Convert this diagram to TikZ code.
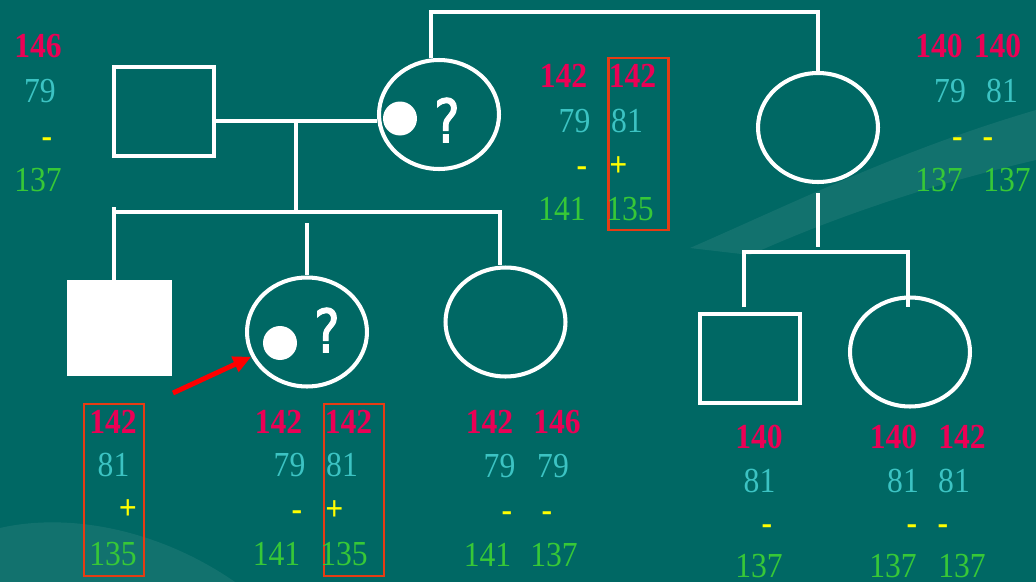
\documentclass[tikz,border=0pt]{standalone}
\usepackage{xcolor}
\usepackage{fontspec}
\newfontfamily\numfont{Liberation Serif}[FakeStretch=0.9]
\newfontfamily\qmfont{DejaVu Sans}[FakeStretch=0.8, FakeBold=2]
\usetikzlibrary{arrows.meta, calc, shapes.geometric}

\definecolor{bgteal}{RGB}{0,104,100}
\definecolor{mkred}{RGB}{235,0,85}
\definecolor{mkcyan}{RGB}{60,195,195}
\definecolor{mkyel}{RGB}{255,255,0}
\definecolor{mkgrn}{RGB}{55,200,55}
\definecolor{boxred}{RGB}{230,60,20}
\definecolor{arrred}{RGB}{255,0,0}

\tikzset{
  pline/.style={white, line width=2.3pt},
  male/.style={draw=white, line width=2.3pt, minimum width=2cm, minimum height=1.78cm, inner sep=0pt},
  affmale/.style={fill=white, minimum width=2.1cm, minimum height=1.92cm, inner sep=0pt},
  female/.style={ellipse, draw=white, line width=2.3pt, minimum width=2.4cm, minimum height=2.18cm, inner sep=0pt},
  carrier/.style={circle, fill=white, minimum size=0.68cm, inner sep=0pt},
  qmark/.style={white, inner sep=0pt, font=\qmfont\fontsize{34}{38}\selectfont},
  allele/.style={anchor=base, inner sep=0pt, font=\numfont\fontsize{20}{24}\selectfont},
  mkA/.style={allele, mkred, font=\numfont\bfseries\fontsize{20}{24}\selectfont},
  mkB/.style={allele, mkcyan},
  mut/.style={allele, mkyel, font=\numfont\bfseries\fontsize{20}{24}\selectfont},
  mkC/.style={allele, mkgrn},
  hapbox/.style={draw=boxred, line width=1.2pt, minimum width=1.2cm, minimum height=3.44cm, inner sep=0pt},
  swoosh/.style={fill=white, opacity=0.07}
}

\begin{document}
\begin{tikzpicture}[x=0.02cm, y=-0.02cm, >={Triangle[length=3.6mm, width=3.2mm]}]
  \fill[bgteal] (0,0) rectangle (1036,582);
  \useasboundingbox (0,0) rectangle (1036,582);
  % background swooshes
  \fill[swoosh] (690,248) .. controls (800,200) and (900,150) .. (1036,110) -- (1036,160) .. controls (950,180) and (850,210) .. (750,255) -- cycle;
  \fill[swoosh] (0,528) .. controls (70,512) and (160,530) .. (235,582) -- (0,582) -- cycle;

  % generation I
  \node[male] (gpa) at (164,111.5) {};
  \node[female] (gmaL) at (439,114.5) {};
  \node[female] (gmaR) at (818,127.5) {};
  \node[carrier] (dotL) at (400,118.5) {};
  \node[qmark] (qL) at (447,120) {?};

  % generation II
  \node[affmale] (sonA) at (119.5,328) {};
  \node[female] (prob) at (307,332) {};
  \node[female] (sis) at (505.5,322) {};
  \node[male] (sonB) at (750,358.5) {};
  \node[female] (dau) at (910,352) {};
  \node[carrier] (dotP) at (280,343) {};
  \node[qmark] (qP) at (327,330) {?};

  % pedigree lines
  \coordinate (topL) at (431,12);
  \coordinate (topR) at (818,12);
  \coordinate (mar) at (296,121);
  \coordinate (sibM) at (296,212);
  \coordinate (sibL) at (114,212);
  \coordinate (sibR) at (500,212);
  \coordinate (dropR) at (818,193);
  \coordinate (sbL) at (744,252);
  \coordinate (sbR) at (908,252);
  \draw[pline] (topL |- gmaL.north) -- (topL) -- (topR) -- (gmaR.north);
  \draw[pline] (gpa.east |- mar) -- (gmaL.west |- mar);
  \draw[pline] (mar) -- (sibM);
  \draw[pline] (sibL |- sonA.north) -- (114,207);
  \draw[pline] (sibL) -- (sibR) -- (sibR |- sis.north);
  \draw[pline] (307,223) -- (prob.north);
  \draw[pline] (dropR) -- (818,247);
  \draw[pline] (sbL |- 0,307) -- (sbL) -- (sbR) -- (sbR |- 0,307);

  \coordinate (arrtail) at (173,393);
  \draw[->, arrred, line width=2.8pt] (arrtail) -- (prob.204);

  % haplotype boxes
  \node[hapbox] (boxL) at (638.5,144) {};
  \node[hapbox] (boxA) at (113.8,490) {};
  \node[hapbox] (boxP) at (354,490) {};

  % alleles
  \foreach \n/\x/\y/\t in {gpa1/38/57/146, gl1/563.5/87/142, gl2/632.5/87/142, gr1/939/57/140, gr2/997.5/57/140,
      sa1/113/433/142, pb1/278.5/433/142, pb2/348.5/433/142, ss1/489.5/433/142, ss2/557/433/146,
      sb1/759/448/140, dd1/893.5/448/140, dd2/962/448/142}
    \node[mkA] (\n) at (\x,\y) {\t};
  \foreach \n/\x/\y/\t in {gpa2/40/102/79, gl3/574.5/132/79, gl4/627/132/81, gr3/950/102/79, gr4/1002/102/81,
      sa2/113.5/476/81, pb3/289.5/476/79, pb4/342/476/81, ss3/499.5/477/79, ss4/553/477/79,
      sb2/759.5/492/81, dd3/903/492/81, dd4/954/492/81}
    \node[mkB] (\n) at (\x,\y) {\t};
  \foreach \n/\x/\y/\t in {gpa3/47/147/-, gl5/582/176/-, gl6/618.5/176/+, gr5/957.5/147/-, gr6/988/147/-,
      sa3/128/519/+, pb5/297/520/-, pb6/334.5/520/+, ss5/507/521/-, ss6/547/521/-,
      sb3/767/534/-, dd5/912/534/-, dd6/943/534/-}
    \node[mut] (\n) at (\x,\y) {\t};
  \foreach \n/\x/\y/\t in {gpa4/38/191/137, gl7/562/220/141, gl8/630/220/135, gr7/939/191/137, gr8/1007/191/137,
      sa4/113/565/135, pb7/276.5/565/141, pb8/344/565/135, ss7/487.5/566/141, ss8/554/566/137,
      sb4/759/577/137, dd7/893/577/137, dd8/962/577/137}
    \node[mkC] (\n) at (\x,\y) {\t};
\end{tikzpicture}
\end{document}
